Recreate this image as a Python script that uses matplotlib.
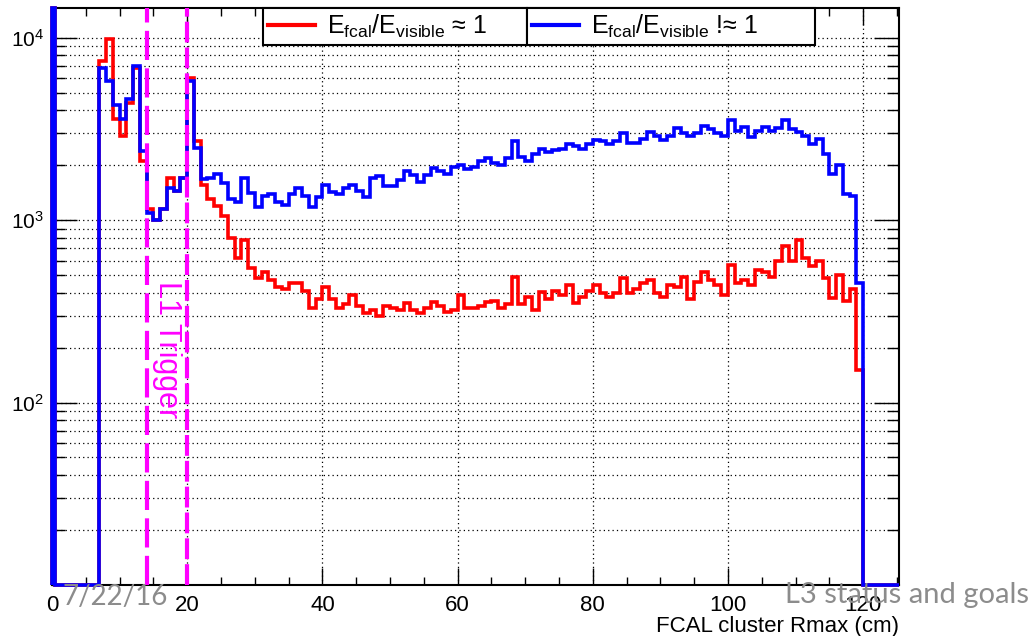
import numpy as np
import matplotlib
matplotlib.use("Agg")
import matplotlib.pyplot as plt
from matplotlib.lines import Line2D
from matplotlib.ticker import MultipleLocator, LogLocator, NullFormatter

plt.rcParams['font.family'] = ['Liberation Sans', 'DejaVu Sans']
plt.rcParams['mathtext.fontset'] = 'custom'
plt.rcParams['mathtext.rm'] = 'Liberation Sans'
plt.rcParams['mathtext.it'] = 'Liberation Sans:italic'
plt.rcParams['mathtext.default'] = 'regular'

# 1 cm bins from 7 to 120 cm
bin_lo = 7
bin_hi = 120
overflow_first_bin = 2.0e5   # bin [0, 0.5] is far above the frame

# E_fcal / E_visible ~ 1
red_counts = [
    7500, 9800, 3600, 2900, 4400, 6800, 2100, 1150, 1000, 1150,   # 7-16
    1700, 1450, 1700, 6000, 2700, 1550, 1300, 1200, 1050, 800,    # 17-26
    620, 780, 550, 480, 520, 470, 430, 420, 450, 450,             # 27-36
    410, 330, 370, 430, 370, 330, 345, 390, 340, 310,             # 37-46
    320, 300, 340, 330, 320, 350, 320, 310, 330, 355,             # 47-56
    340, 315, 320, 390, 330, 330, 340, 355, 360, 330,             # 57-66
    345, 490, 345, 380, 320, 405, 370, 410, 390, 440,             # 67-76
    350, 380, 410, 440, 400, 380, 400, 480, 400, 420,             # 77-86
    450, 470, 400, 380, 440, 430, 490, 370, 460, 520,             # 87-96
    470, 440, 390, 570, 450, 470, 440, 530, 520, 490,             # 97-106
    600, 720, 600, 780, 620, 560, 600, 480, 375, 500,             # 107-116
    360, 420, 150,                                                # 117-119
]

# E_fcal / E_visible !~ 1
blue_counts = [
    6800, 5800, 4300, 3600, 4600, 7000, 2400, 1100, 1000, 1150,   # 7-16
    1500, 1450, 1700, 5800, 2500, 1680, 1700, 1800, 1600, 1300,   # 17-26
    1250, 1700, 1410, 1180, 1350, 1400, 1250, 1210, 1400, 1500,   # 27-36
    1350, 1180, 1340, 1550, 1430, 1400, 1500, 1550, 1450, 1340,   # 37-46
    1700, 1750, 1530, 1530, 1660, 1850, 1770, 1620, 1770, 1930,   # 47-56
    1850, 1800, 1950, 2000, 1900, 1950, 2100, 2200, 2050, 2000,   # 57-66
    2200, 2700, 2230, 2100, 2300, 2450, 2350, 2430, 2450, 2600,   # 67-76
    2550, 2450, 2600, 2750, 2700, 2600, 2700, 3000, 2650, 2650,   # 77-86
    2800, 3050, 2900, 2750, 2900, 3200, 3000, 2900, 3000, 3300,   # 87-96
    3150, 3000, 2900, 3550, 3100, 3250, 2850, 3100, 3250, 3100,   # 97-106
    3200, 3550, 3150, 3050, 2900, 2600, 2800, 2300, 1800, 2000,   # 107-116
    1400, 1350, 450,                                              # 117-119
]

trigger_lines = [14.0, 20.0]

xmax = 125.3
ymin, ymax = 10, 1.456e4


def full_hist(counts):
    edges = np.r_[0, 0.5, np.arange(bin_lo, bin_hi + 1), xmax]
    vals = np.r_[overflow_first_bin, 0, counts, 0]
    return edges, np.clip(vals, ymin, ymax)


fig = plt.figure(figsize=(10.36, 6.36), dpi=100)
ax = fig.add_axes([52 / 1036, 51 / 636, 847 / 1036, 577 / 636])
ax.set_yscale('log')
ax.set_xlim(0, xmax)
ax.set_ylim(ymin, ymax)

dots = (0, (1, 2.5))
ax.grid(True, which='major', axis='x', color='black', ls=dots, lw=0.9)
ax.grid(True, which='both', axis='y', color='black', ls=dots, lw=0.9)
ax.set_axisbelow(True)

for counts, col in [(red_counts, '#ff0000'), (blue_counts, '#0000ff')]:
    edges, vals = full_hist(counts)
    ax.stairs(vals, edges, baseline=ymin, color=col, lw=2.6, clip_on=False, zorder=3)

ax.axvline(trigger_lines[0], color='#ff00ff', lw=3.0, ls=(0, (7, 2)), zorder=4)
ax.axvline(trigger_lines[1], color='#ff00ff', lw=3.0, ls=(0, (5, 1.2)), zorder=4)
ax.text(17.0, 194, 'L1 Trigger', rotation=-90, ha='center', va='center',
        color='#ff00ff', fontsize=22)

ax.set_xticks(range(0, 121, 20))
ax.xaxis.set_minor_locator(MultipleLocator(5))
ax.set_yticks([10, 100, 1000, 10000], ['', '$10^{2}$', '$10^{3}$', '$10^{4}$'])
ax.yaxis.set_minor_locator(LogLocator(base=10, subs=range(2, 10)))
ax.yaxis.set_minor_formatter(NullFormatter())

ax.tick_params(axis='x', which='major', direction='in', top=True, length=12,
               width=1, labelsize=16, pad=7)
ax.tick_params(axis='x', which='minor', direction='in', top=True, length=6, width=1)
ax.tick_params(axis='y', which='major', direction='in', right=True, length=18,
               width=1, labelsize=15, pad=6)
ax.tick_params(axis='y', which='minor', direction='in', right=True, length=9, width=1)
for sp in ax.spines.values():
    sp.set_linewidth(1.5)

ax.set_xlabel('FCAL cluster Rmax (cm)', loc='right', fontsize=16, labelpad=0)

h_red = Line2D([], [], color='#ff0000', lw=3)
h_blue = Line2D([], [], color='#0000ff', lw=3)
leg_style = dict(loc='upper left', mode='expand', borderaxespad=0, fontsize=18,
                 fancybox=False, edgecolor='black', framealpha=1,
                 handlelength=1.9, handletextpad=0.45, borderpad=0.2)
leg1 = ax.legend([h_red], ['E$_{fcal}$/E$_{visible}$ ≈ 1'],
                 bbox_to_anchor=(0.2491, 1.0, 0.3117, 0), **leg_style)
ax.add_artist(leg1)
leg2 = ax.legend([h_blue], ['E$_{fcal}$/E$_{visible}$ !≈ 1'],
                 bbox_to_anchor=(0.5608, 1.0, 0.3400, 0), **leg_style)
for lg in (leg1, leg2):
    lg.get_frame().set_linewidth(1.5)
    lg.set_zorder(6)

fig.text(62 / 1036, 31 / 636, '7/22/16', fontfamily='Lato', fontsize=20,
         color='#8c8c8c', va='baseline')
fig.text(785 / 1036, 33 / 636, 'L3 status and goals', fontfamily='Lato',
         fontsize=21, color='#8c8c8c', va='baseline')

fig.savefig('out.png', dpi=100)
